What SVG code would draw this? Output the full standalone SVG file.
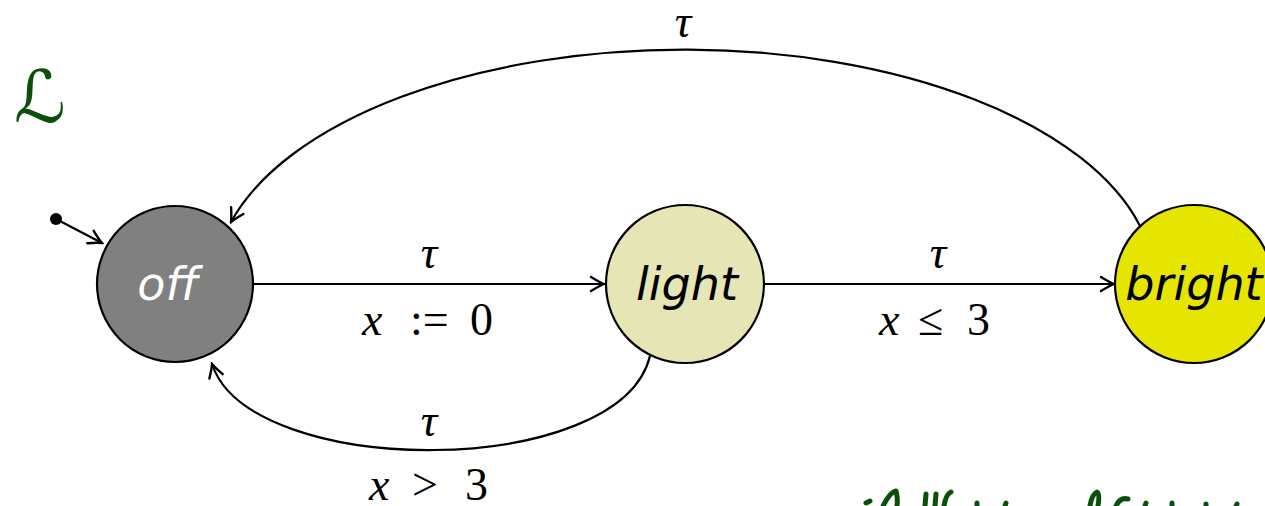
<svg xmlns="http://www.w3.org/2000/svg" width="1265" height="506" viewBox="0 0 1265 506">
<style>
.node{stroke:#000;stroke-width:2.2}
.nlabel{font-family:"DejaVu Sans","Liberation Sans",sans-serif;font-style:oblique;font-size:46px;text-anchor:middle}
.edge{fill:none;stroke:#000;stroke-width:2.2}
.math{font-family:"Liberation Serif","DejaVu Serif",serif;font-size:46px;fill:#000}
.it{font-style:italic}
.ink{fill:none;stroke:#0b4f0b;stroke-width:5;stroke-linecap:round;stroke-linejoin:round}
</style>
<defs>
<marker id="arr" viewBox="-16 -9 18 18" refX="0" refY="0" markerWidth="18" markerHeight="18" markerUnits="userSpaceOnUse" orient="auto">
<path d="M -13 -7 Q -4 -1.5 0 0 Q -4 1.5 -13 7" fill="none" stroke="#000" stroke-width="2.4" stroke-linecap="round"/>
</marker>
</defs>
<text x="14" y="122" font-family="DejaVu Sans, sans-serif" font-style="italic" font-size="72" fill="#0b4f0b">ℒ</text>
<g id="connectors">
<circle cx="56" cy="219" r="6" fill="#000"/>
<path class="edge" d="M 56 219 L 102 243" marker-end="url(#arr)"/>
<path class="edge" d="M 254 284 L 604 284" marker-end="url(#arr)"/>
<path class="edge" d="M 764 284 L 1114 284" marker-end="url(#arr)"/>
<path class="edge" d="M 1140 226 A 470 234 0 0 0 231 222" marker-end="url(#arr)"/>
<path class="edge" d="M 650 356 C 620 480, 250 480, 212 364" marker-end="url(#arr)"/>
<text class="math it" x="683" y="37" text-anchor="middle">τ</text>
<text class="math it" x="429" y="268" text-anchor="middle">τ</text>
<text class="math" y="335"><tspan class="it" x="362">x</tspan><tspan x="410">:=</tspan><tspan x="470">0</tspan></text>
<text class="math it" x="938" y="268" text-anchor="middle">τ</text>
<text class="math" y="335"><tspan class="it" x="879">x</tspan><tspan x="918">≤</tspan><tspan x="967">3</tspan></text>
<text class="math it" x="429" y="436" text-anchor="middle">τ</text>
<text class="math" y="500"><tspan class="it" x="369">x</tspan><tspan x="412">&gt;</tspan><tspan x="465">3</tspan></text>
</g>
<g id="off">
<circle class="node" cx="175" cy="284" r="78" fill="#808080"/>
<text class="nlabel" x="168" y="300" fill="#fff">off</text>
</g>
<g id="light">
<circle class="node" cx="685" cy="284" r="79" fill="#e5e5b6"/>
<text class="nlabel" x="687" y="300" fill="#000">light</text>
</g>
<g id="bright">
<circle class="node" cx="1194" cy="284" r="79" fill="#e5e500"/>
<text class="nlabel" x="1194" y="300" fill="#000">bright</text>
</g>
<g id="annotation">
<path class="ink" d="M 866 503 L 870 501"/>
<path class="ink" d="M 883 506 Q 890 492 896 491 Q 898 498 897 506"/>
<path class="ink" d="M 925 506 L 926 494 M 935 506 L 936 494"/>
<path class="ink" d="M 944 506 Q 946 494 951 492"/>
<path class="ink" d="M 977 506 L 977 503 M 1005 506 L 1006 503"/>
<path class="ink" d="M 1090 506 Q 1092 494 1097 492 Q 1100 494 1098 506"/>
<path class="ink" d="M 1116 506 Q 1120 497 1128 499"/>
<path class="ink" d="M 1145 506 L 1146 503 M 1172 506 L 1172 503 M 1206 506 L 1206 504 M 1236 506 L 1237 504"/>
</g>
</svg>
